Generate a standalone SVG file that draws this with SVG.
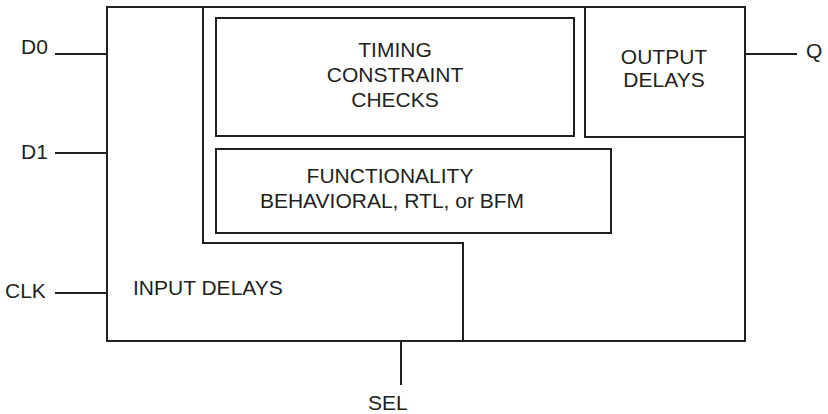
<svg xmlns="http://www.w3.org/2000/svg" width="828" height="414" viewBox="0 0 828 414">
<style>
.ln{fill:none;stroke:#231f20;stroke-width:2}
text{font-family:"Liberation Sans",Arial,sans-serif;font-size:21px;fill:#231f20}
.c{text-anchor:middle}
</style>
<rect width="828" height="414" fill="#fff"/>
<g id="outer">
<rect class="ln" x="107" y="7" width="638" height="334"/>
<text x="133" y="295">INPUT DELAYS</text>
</g>
<g id="core">
<polyline class="ln" points="203,7 203,243 463,243 463,341"/>
</g>
<g id="timing">
<rect class="ln" x="216" y="18" width="358" height="118"/>
<text class="c" x="395" y="57">TIMING</text>
<text class="c" x="395" y="82">CONSTRAINT</text>
<text class="c" x="395" y="107">CHECKS</text>
</g>
<g id="output">
<rect class="ln" x="585" y="7" width="160" height="130"/>
<text class="c" x="664" y="64">OUTPUT</text>
<text class="c" x="664" y="87">DELAYS</text>
</g>
<g id="func">
<rect class="ln" x="216" y="149" width="395" height="84"/>
<text class="c" x="390" y="183">FUNCTIONALITY</text>
<text class="c" x="392" y="208">BEHAVIORAL, RTL, or BFM</text>
</g>
<g id="ports">
<text x="21" y="54">D0</text>
<text x="21" y="159">D1</text>
<text x="5" y="298">CLK</text>
<text x="806" y="58">Q</text>
<text x="368" y="410">SEL</text>
</g>
<g id="connectors">
<line class="ln" x1="55" y1="54" x2="107" y2="54"/>
<line class="ln" x1="55" y1="153" x2="107" y2="153"/>
<line class="ln" x1="55" y1="293" x2="107" y2="293"/>
<line class="ln" x1="745" y1="54" x2="797" y2="54"/>
<line class="ln" x1="401" y1="341" x2="401" y2="385"/>
</g>
</svg>
